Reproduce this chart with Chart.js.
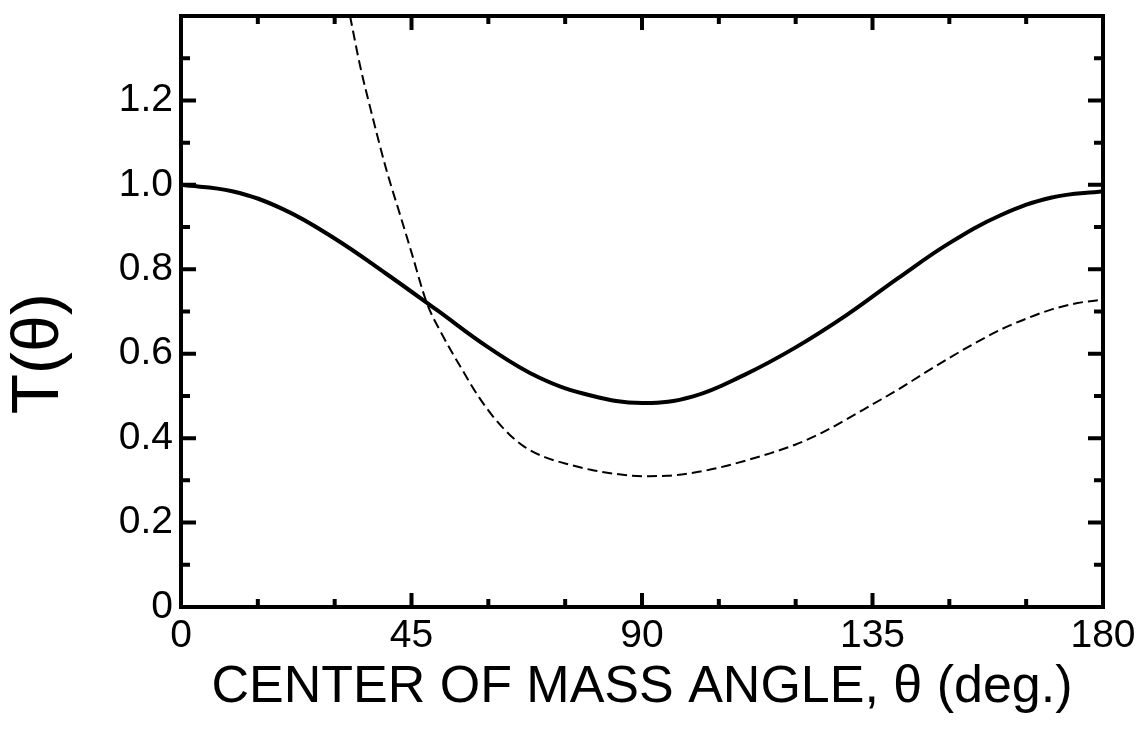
<!DOCTYPE html>
<html>
<head>
<meta charset="utf-8">
<script src="https://cdn.jsdelivr.net/npm/chart.js@4/dist/chart.umd.min.js"></script>
<style>
    html, body { margin: 0; padding: 0; background: #fff; }
    #chart { display: block; }
</style>
</head>
<body>
<canvas id="chart" width="1141" height="730"></canvas>
<script>
// solid curve, sampled every 10 degrees
const ANGLES = [0, 10, 20, 30, 40, 50, 60, 70, 80, 90, 100, 110, 120, 130, 140, 150, 160, 170, 180];
const T_SOLID = [1.000, 0.985, 0.942, 0.873, 0.790, 0.703, 0.615, 0.543, 0.501, 0.483,
                 0.499, 0.550, 0.615, 0.692, 0.779, 0.862, 0.928, 0.970, 0.985];

// dashed curve, starts where it enters the frame at the top
const DASH_ANGLES = [33, 35, 37, 40, 43, 45, 48, 51, 55, 58, 61, 64, 67, 71, 75, 80, 85, 90,
                     95, 100, 105, 110, 115, 120, 125, 130, 135, 140, 145, 150, 155, 160, 165, 170, 175, 180];
const T_DASHED = [1.40, 1.28, 1.18, 1.04, 0.92, 0.84, 0.72, 0.645, 0.56, 0.50, 0.45, 0.41, 0.38, 0.355,
                  0.34, 0.325, 0.315, 0.31, 0.311, 0.318, 0.33, 0.346, 0.364, 0.385, 0.412, 0.445, 0.48,
                  0.515, 0.553, 0.59, 0.625, 0.657, 0.683, 0.705, 0.72, 0.728];

const X_MAJOR_STEP = 45;
const X_MINOR_STEP = 15;
const Y_MAJOR_STEP = 0.2;
const Y_MINOR_STEP = 0.1;
const X_MAX = 180;
const Y_MAX = 1.4;

const Y_TITLE = 'T(θ)';
const FONT = "'Liberation Sans', Arial, Helvetica, sans-serif";

function toPoints(xs, ys) {
    return xs.map((x, i) => ({ x: x, y: ys[i] }));
}

// box frame with inward ticks on all four sides
const frameTicks = {
    id: 'frameTicks',
    afterDatasetsDraw(chart) {
        const { ctx, chartArea: a, scales: { x, y } } = chart;
        ctx.save();
        ctx.strokeStyle = '#000';
        ctx.lineWidth = 4;
        ctx.lineCap = 'butt';
        ctx.beginPath();
        for (let d = X_MINOR_STEP; d < X_MAX; d += X_MINOR_STEP) {
            const px = x.getPixelForValue(d);
            const len = d % X_MAJOR_STEP === 0 ? 14 : 8;
            ctx.moveTo(px, a.bottom); ctx.lineTo(px, a.bottom - len);
            ctx.moveTo(px, a.top); ctx.lineTo(px, a.top + len);
        }
        const n = Math.round(Y_MAX / Y_MINOR_STEP);
        const every = Math.round(Y_MAJOR_STEP / Y_MINOR_STEP);
        for (let i = 1; i < n; i++) {
            const py = y.getPixelForValue(i * Y_MINOR_STEP);
            const len = i % every === 0 ? 15 : 9;
            ctx.moveTo(a.left, py); ctx.lineTo(a.left + len, py);
            ctx.moveTo(a.right, py); ctx.lineTo(a.right - len, py);
        }
        ctx.stroke();
        ctx.strokeRect(a.left, a.top, a.right - a.left, a.bottom - a.top);
        ctx.restore();
    }
};

// rotated y title, set a little below the middle of the axis
const yTitle = {
    id: 'yTitle',
    afterDraw(chart) {
        const { ctx, scales: { y } } = chart;
        ctx.save();
        ctx.translate(40, y.getPixelForValue(0.6));
        ctx.rotate(-Math.PI / 2);
        ctx.font = '66px ' + FONT;
        ctx.fillStyle = '#000';
        ctx.textAlign = 'center';
        ctx.textBaseline = 'middle';
        ctx.fillText(Y_TITLE, 0, 0);
        ctx.restore();
    }
};

new Chart(document.getElementById('chart'), {
    type: 'line',
    data: {
        datasets: [
            {
                data: toPoints(ANGLES, T_SOLID),
                borderColor: '#000',
                borderWidth: 4,
                tension: 0.4,
                pointRadius: 0,
                fill: false
            },
            {
                data: toPoints(DASH_ANGLES, T_DASHED),
                borderColor: '#000',
                borderWidth: 2,
                borderDash: [10, 5],
                cubicInterpolationMode: 'monotone',
                pointRadius: 0,
                fill: false
            }
        ]
    },
    options: {
        responsive: false,
        animation: false,
        events: [],
        layout: { padding: { left: 0, top: 16, right: 38, bottom: 0 } },
        plugins: { legend: { display: false }, tooltip: { enabled: false } },
        scales: {
            x: {
                type: 'linear',
                min: 0,
                max: X_MAX,
                grid: { display: false, drawTicks: false },
                border: { display: false },
                afterFit: s => { s.height = 123; s.paddingLeft = 0; s.paddingRight = 0; },
                ticks: {
                    stepSize: X_MAJOR_STEP,
                    color: '#000',
                    padding: 6,
                    font: { family: FONT, size: 39 },
                    maxRotation: 0
                },
                title: {
                    display: true,
                    text: 'CENTER OF MASS ANGLE, θ (deg.)',
                    color: '#000',
                    font: { family: FONT, size: 52, lineHeight: 1 },
                    padding: { top: 0, bottom: 16 }
                }
            },
            y: {
                min: 0,
                max: Y_MAX,
                grid: { display: false, drawTicks: false },
                border: { display: false },
                afterFit: s => { s.width = 181; s.paddingTop = 0; s.paddingBottom = 0; },
                // no label at the top of the frame
                afterBuildTicks: s => { s.ticks = s.ticks.filter(t => t.value < Y_MAX - 0.01); },
                ticks: {
                    stepSize: Y_MAJOR_STEP,
                    color: '#000',
                    padding: 8,
                    font: { family: FONT, size: 39 },
                    callback: v => v === 0 ? '0' : v.toFixed(1)
                }
            }
        }
    },
    plugins: [frameTicks, yTitle]
});
</script>
</body>
</html>
